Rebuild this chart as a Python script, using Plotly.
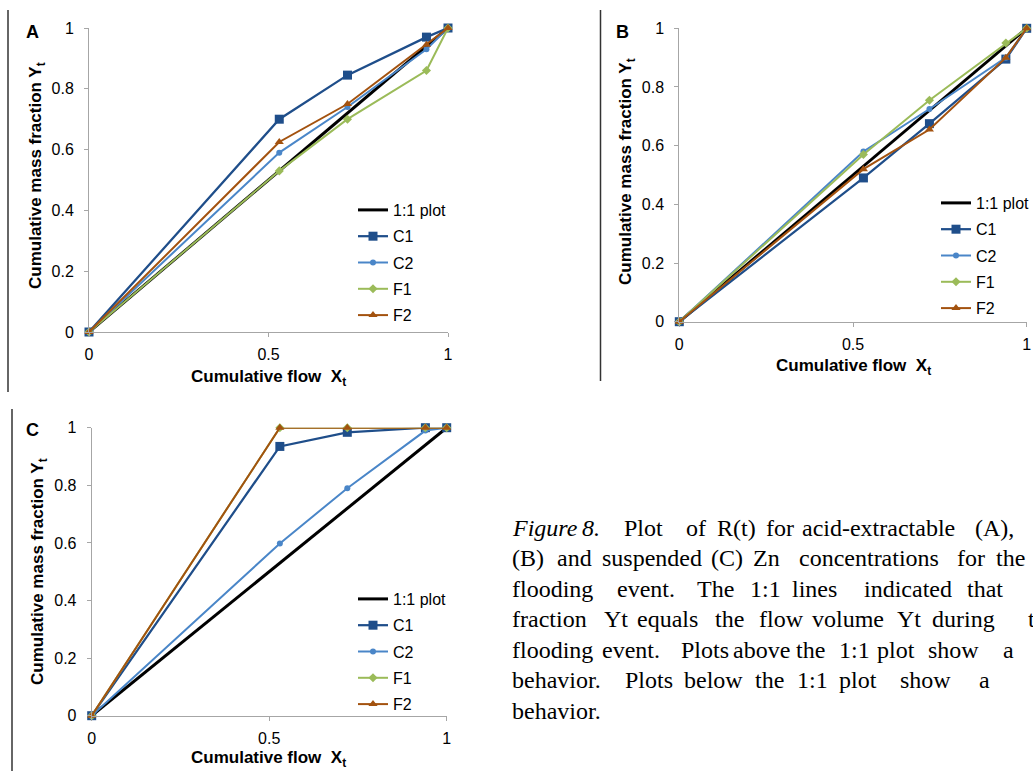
import plotly.graph_objects as go

W, H = 1033, 771

# ---- data ----
X = [0, 0.53, 0.72, 0.94, 1]
ONE_TO_ONE = [0, 0.53, 0.72, 0.94, 1]

A_C1 = [0, 0.70, 0.845, 0.97, 1]
A_C2 = [0, 0.59, 0.74, 0.93, 1]
A_F1 = [0, 0.53, 0.70, 0.86, 1]
A_F2 = [0, 0.625, 0.75, 0.945, 1]

B_C1 = [0, 0.49, 0.675, 0.895, 1]
B_C2 = [0, 0.58, 0.725, 0.90, 1]
B_F1 = [0, 0.57, 0.755, 0.95, 1]
B_F2 = [0, 0.52, 0.655, 0.90, 1]

C_C1 = [0, 0.935, 0.984, 1, 1]
C_C2 = [0, 0.598, 0.79, 0.99, 1]
C_F1 = [0, 1, 1, 1, 1]
C_F2 = [0, 1, 1, 1, 1]

SERIES_NAMES = ["1:1 plot", "C1", "C2", "F1", "F2"]
X_TICKS = [0, 0.5, 1]
X_TICK_LABELS = ["0", "0.5", "1"]
Y_TICKS = [0, 0.2, 0.4, 0.6, 0.8, 1]
Y_TICK_LABELS = ["0", "0.2", "0.4", "0.6", "0.8", "1"]

PANELS = [
    ("A", [A_C1, A_C2, A_F1, A_F2]),
    ("B", [B_C1, B_C2, B_F1, B_F2]),
    ("C", [C_C1, C_C2, C_F1, C_F2]),
]

CAPTION_WORDS = [
    ["<i>Figure</i>", "<i>8.</i>", "Plot", "of", "R(t)", "for", "acid-extractable", "(A),"],
    ["(B)", "and", "suspended", "(C)", "Zn", "concentrations", "for", "the"],
    ["flooding", "event.", "The", "1:1", "lines", "indicated", "that"],
    ["fraction", "Yt", "equals", "the", "flow", "volume", "Yt", "during", "the"],
    ["flooding", "event.", "Plots", "above", "the", "1:1", "plot", "show", "a"],
    ["behavior.", "Plots", "below", "the", "1:1", "plot", "show", "a"],
    ["behavior."],
]

# ---- layout constants (pixels) ----
CAPTION_WORD_X = [
    [510, 580, 622, 684, 715, 764, 800, 973],
    [510, 555, 600, 709, 751, 797, 955, 994],
    [510, 615, 695, 748, 790, 862, 965],
    [510, 602, 635, 713, 757, 810, 895, 930, 1026],
    [510, 600, 679, 731, 794, 837, 875, 926, 1001],
    [510, 623, 682, 753, 795, 837, 898, 977],
    [510],
]

STYLES = [
    dict(color="#000000", width=3, symbol=None, size=0),
    dict(color="#1F4E8A", width=2.25, symbol="square", size=9),
    dict(color="#4A86C8", width=2, symbol="circle", size=6),
    dict(color="#9BBB59", width=2, symbol="diamond", size=7),
    dict(color="#A3520F", width=2, symbol="triangle-up", size=8),
]

def px(x):
    return x / W

def py(y):
    return 1 - y / H

GEOM = {
    "A": (89, 448, 28, 332),
    "B": (679.3, 1026.7, 28.3, 321.7),
    "C": (91.7, 446.7, 427.7, 715.7),
}
LEGEND_POS = {"A": (353, 193), "B": (936, 186), "C": (353, 582)}
LEGEND_GAP = {"A": 2.5, "B": 2.5, "C": 2.5}
XTITLE_POS = {"A": (268, 378), "B": (853, 367), "C": (268, 759)}
YTITLE_POS = {"A": (37, 176), "B": (627, 172), "C": (39, 572)}
LABEL_POS = {"A": (32, 32), "B": (622, 32), "C": (32, 430)}

FONT = "Liberation Sans, Arial, sans-serif"
SERIF = "Liberation Serif, Times New Roman, serif"
AXIS_GRAY = "#A6A6A6"

fig = go.Figure()
layout = dict(
    autosize=True, margin=dict(l=0, r=0, t=0, b=0, autoexpand=False),
    paper_bgcolor="white", plot_bgcolor="white",
    font=dict(family=FONT, size=16, color="#000000"),
    showlegend=True,
)
annotations = []

for i, (label, series) in enumerate(PANELS):
    n = i + 1
    xa = "x" if n == 1 else f"x{n}"
    ya = "y" if n == 1 else f"y{n}"
    leg = "legend" if n == 1 else f"legend{n}"
    all_y = [ONE_TO_ONE] + series
    for j, (name, yv) in enumerate(zip(SERIES_NAMES, all_y)):
        st = STYLES[j]
        mode = "lines" if st["symbol"] is None else "lines+markers"
        tr = go.Scatter(
            x=X, y=yv, name=name, mode=mode, xaxis=xa, yaxis=ya,
            legend=leg, legendgroup=f"{label}{j}",
            line=dict(color=st["color"], width=st["width"]),
            cliponaxis=False,
        )
        if st["symbol"] is not None:
            tr.marker = dict(symbol=st["symbol"], size=st["size"], color=st["color"],
                             line=dict(width=0))
        fig.add_trace(tr)
    x0, x1, yt, yb = GEOM[label]
    axkey_x = "xaxis" if n == 1 else f"xaxis{n}"
    axkey_y = "yaxis" if n == 1 else f"yaxis{n}"
    common = dict(
        range=[0, 1], showline=True, linecolor=AXIS_GRAY, linewidth=1,
        ticks="outside", ticklen=4, tickcolor=AXIS_GRAY, tickwidth=1,
        showgrid=False, zeroline=False, automargin=False,
        tickfont=dict(size=16, family=FONT, color="#000"), fixedrange=True,
    )
    layout[axkey_x] = dict(domain=[px(x0), px(x1)], anchor=ya,
                           tickvals=X_TICKS, ticktext=X_TICK_LABELS,
                           ticklabelstandoff=4, **common)
    layout[axkey_y] = dict(domain=[py(yb), py(yt)], anchor=xa,
                           tickvals=Y_TICKS, ticktext=Y_TICK_LABELS,
                           ticklabelstandoff=7, **common)
    lx, ly = LEGEND_POS[label]
    layout[leg] = dict(
        x=px(lx), y=py(ly), xanchor="left", yanchor="top",
        bgcolor="rgba(0,0,0,0)", borderwidth=0,
        font=dict(size=16, family=FONT, color="#000"),
        tracegroupgap=LEGEND_GAP[label], itemwidth=30,
    )
    tx, ty = XTITLE_POS[label]
    annotations.append(dict(
        x=px(tx), y=py(ty), xref="paper", yref="paper", showarrow=False,
        text="<b>Cumulative flow\u00a0\u00a0X<sub>t</sub></b>",
        font=dict(size=17, family=FONT, color="#000"),
        xanchor="center", yanchor="middle",
    ))
    tx, ty = YTITLE_POS[label]
    annotations.append(dict(
        x=px(tx), y=py(ty), xref="paper", yref="paper", showarrow=False,
        text="<b>Cumulative mass fraction Y<sub>t</sub></b>", textangle=-90,
        font=dict(size=17, family=FONT, color="#000"),
        xanchor="center", yanchor="middle",
    ))
    tx, ty = LABEL_POS[label]
    annotations.append(dict(
        x=px(tx), y=py(ty), xref="paper", yref="paper", showarrow=False,
        text=f"<b>{label}</b>", font=dict(size=18, family=FONT, color="#000"),
        xanchor="center", yanchor="middle",
    ))

# caption, placed word by word to reproduce the justified lines
CAP_MID_Y = 527.5
CAP_STEP = 30.5
for k, (words, xs) in enumerate(zip(CAPTION_WORDS, CAPTION_WORD_X)):
    for word, wx in zip(words, xs):
        annotations.append(dict(
            x=px(wx), y=py(CAP_MID_Y + k * CAP_STEP), xref="paper", yref="paper",
            showarrow=False, text=word, xanchor="left", yanchor="middle",
            font=dict(size=24, family=SERIF, color="#000"),
        ))

layout["annotations"] = annotations
layout["shapes"] = [
    dict(type="line", xref="paper", yref="paper", x0=px(8), x1=px(8), y0=py(10), y1=py(392),
         line=dict(color="#333333", width=1.5)),
    dict(type="line", xref="paper", yref="paper", x0=px(600.5), x1=px(600.5), y0=py(10), y1=py(381),
         line=dict(color="#333333", width=1.5)),
    dict(type="line", xref="paper", yref="paper", x0=px(12), x1=px(12), y0=py(409), y1=py(771),
         line=dict(color="#333333", width=1.5)),
]
fig.update_layout(**layout)
# the graph div is pinned to the page's top-left corner at exactly W x H pixels
fig.write_html(
    "out.html", config={"displayModeBar": False},
    default_width=f"{W}px",
    default_height=f"{H}px;position:absolute;left:0;top:0;overflow:hidden",
    post_script=("document.documentElement.style.margin='0';"
                 "document.body.style.margin='0';"),
)
